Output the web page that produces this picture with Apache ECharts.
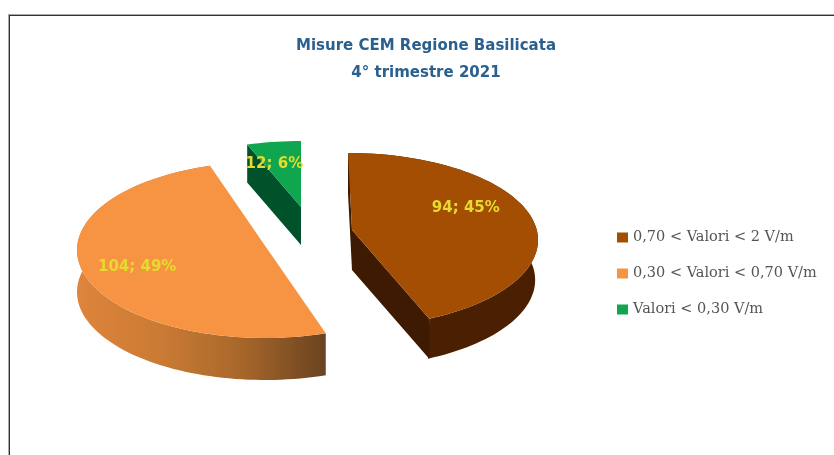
<!DOCTYPE html>
<html><head><meta charset="utf-8">
<style>html,body{margin:0;padding:0;background:#fff}#c{width:834px;height:455px;filter:blur(0.7px)}</style>
<script src="https://cdn.jsdelivr.net/npm/echarts@6/dist/echarts.min.js"></script>
</head><body><div id="c"></div>
<script>
var titleText = 'Misure CEM Regione Basilicata\n4° trimestre 2021';
var categories = ['0,70 < Valori < 2 V/m', '0,30 < Valori < 0,70 V/m', 'Valori < 0,30 V/m'];
var counts = [94, 104, 12];
var percents = [45, 49, 6];
var topColors = ['#A34E02', '#F79443', '#10A64F'];

// drawing layout of each slice (the arcs' angles come from counts)
var sliceLayout = [
  {ex:348,ey:240,ax:352,ay:230,rx:190,ry:87,d:40,warp:0.96,arc:true,faces:['start','end'],lx:0.62,ly:-0.37,
   side:'#4A1F02',face:'#3E1A02',lower:0.985},
  {ex:265,ey:250,ax:268,ay:250,rx:188,ry:88,d:42,warp:1.02,arc:true,faces:[],lx:-0.68,ly:0.2,
   side:null,face:null,lower:1},
  {ex:301,ey:228,ax:301,ay:207,rx:190,ry:87,d:38,warp:0.8,arc:false,faces:['start'],lx:-0.14,ly:-0.73,
   side:'#00522A',face:'#00522A',lower:1}
];
var total = counts.reduce(function(a,b){return a+b;},0);
function pt(l,t,dy,k){var r=t*Math.PI/180;k=k||1;return [l.ex+k*l.rx*Math.cos(r),l.ey+l.ry*Math.sin(r)+(dy||0)];}
function arcPts(l,t0,t1,dy,k){var o=[],n=Math.max(2,Math.ceil(Math.abs(t1-t0)/2));
  for(var i=0;i<=n;i++)o.push(pt(l,t0+(t1-t0)*i/n,dy,k));return o;}

function makeRender(idx){
  return function(params,api){
    var v=api.value(0), l=sliceLayout[idx];
    var before=counts.slice(0,idx).reduce(function(a,b){return a+b;},0);
    var t0=-90+before/total*360, t1=t0+v/total*360;
    // the pie is seen in perspective: slices keep their anchored edge, the other edge is warped
    if(idx===2){t0=t1-(t1-t0)*l.warp;}
    else {t1=t0+(t1-t0)*l.warp;}
    var kids=[], fill=api.visual('color');
    var top=arcPts(l,t0,t1,0), a=[l.ax,l.ay];
    if(l.arc){
      var side=top.concat(arcPts(l,t1,t0,l.d,l.lower));
      var sideFill=l.side||new echarts.graphic.LinearGradient(0,0,1,0,[
        {offset:0,color:'#DF843C'},{offset:0.35,color:'#C97A34'},{offset:0.65,color:'#A9682B'},{offset:1,color:'#6A4320'}]);
      kids.push({type:'polygon',shape:{points:side},style:{fill:sideFill}});
    }
    l.faces.forEach(function(f){
      var p=f==='start'?top[0]:top[top.length-1];
      kids.push({type:'polygon',shape:{points:[p,a,[a[0],a[1]+l.d],[p[0],p[1]+l.d]]},style:{fill:l.face}});
    });
    kids.push({type:'polygon',shape:{points:top.concat([a])},style:{fill:fill}});
    kids.push({type:'text',style:{text:v+'; '+percents[idx]+'%',
      x:l.ex+l.lx*l.rx,y:l.ey+l.ly*l.ry,align:'center',verticalAlign:'middle',
      fill:'#E6DA30',font:'bold 15px "DejaVu Sans"'}});
    return {type:'group',children:kids};
  };
}
var chart=echarts.init(document.getElementById('c'));
chart.setOption({
  animation:false,
  backgroundColor:'#fff',
  title:{text:titleText,left:421,top:28,textAlign:'center',
    textStyle:{fontFamily:'DejaVu Sans',fontWeight:'bold',fontSize:15,lineHeight:27,color:'#2A5F8E'}},
  legend:{orient:'vertical',left:612,top:225,itemWidth:11,itemHeight:10,itemGap:21,
    data:categories,selectedMode:false,icon:'rect',
    textStyle:{fontFamily:'DejaVu Serif',fontSize:14.5,color:'#555555',lineHeight:15,padding:[0,0,0,0]}},
  graphic:[
    {type:'rect',shape:{x:8,y:14,width:826,height:1},style:{fill:'#aaaaaa'}},
    {type:'rect',shape:{x:8,y:14,width:1,height:441},style:{fill:'#aaaaaa'}},
    {type:'rect',shape:{x:9,y:15,width:825,height:1},style:{fill:'#333333'}},
    {type:'rect',shape:{x:9,y:15,width:1,height:440},style:{fill:'#333333'}}
  ],
  series:categories.map(function(c,i){
    return {type:'custom',name:c,coordinateSystem:'none',data:[[counts[i]]],
      itemStyle:{color:topColors[i]},renderItem:makeRender(i),silent:true};
  })
});
</script></body></html>
